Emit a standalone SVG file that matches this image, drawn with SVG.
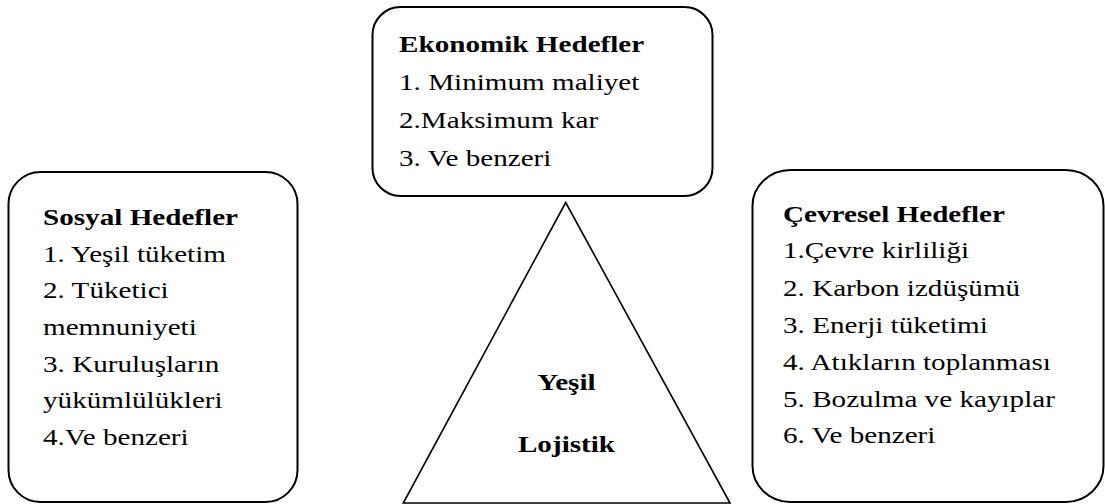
<svg xmlns="http://www.w3.org/2000/svg" width="1105" height="504" viewBox="0 0 1105 504">
<style>
.box{fill:#fff;stroke:#000;stroke-width:2}
.tri{fill:#fff;stroke:#000;stroke-width:1.6}
.t{font-family:'Liberation Serif','Times New Roman',serif;font-size:23.5px;fill:#000}
.b{font-weight:bold}
</style>
<rect width="1105" height="504" fill="#fff"/>
<g id="connectors"></g>
<g id="ekonomik">
<rect class="box" x="372.5" y="7" width="340" height="189" rx="28" ry="28"/>
<g class="t" transform="translate(399,0) scale(1.24,1)">
<text class="b" x="0" y="52.5">Ekonomik Hedefler</text>
<text x="0" y="90.5">1. Minimum maliyet</text>
<text x="0" y="128.5">2.Maksimum kar</text>
<text x="0" y="166.5">3. Ve benzeri</text>
</g>
</g>
<g id="sosyal">
<rect class="box" x="8.5" y="172" width="289" height="330" rx="32" ry="32"/>
<g class="t" transform="translate(43,0) scale(1.24,1)">
<text class="b" x="0" y="225">Sosyal Hedefler</text>
<text x="0" y="261.7">1. Yeşil tüketim</text>
<text x="0" y="298.4">2. Tüketici</text>
<text x="0" y="335.1">memnuniyeti</text>
<text x="0" y="371.8">3. Kuruluşların</text>
<text x="0" y="408.5">yükümlülükleri</text>
<text x="0" y="445.2">4.Ve benzeri</text>
</g>
</g>
<g id="cevresel">
<rect class="box" x="752.5" y="170" width="351" height="332" rx="38" ry="36"/>
<g class="t" transform="translate(783,0) scale(1.24,1)">
<text class="b" x="0" y="221.7">Çevresel Hedefler</text>
<text x="0" y="258.4">1.Çevre kirliliği</text>
<text x="0" y="295.6">2. Karbon izdüşümü</text>
<text x="0" y="332.6">3. Enerji tüketimi</text>
<text x="0" y="369.6">4. Atıkların toplanması</text>
<text x="0" y="406.6">5. Bozulma ve kayıplar</text>
<text x="0" y="443.4">6. Ve benzeri</text>
</g>
</g>
<g id="yesil-lojistik">
<polygon class="tri" points="565.7,202.5 403.3,503 730,503"/>
<g class="t" transform="translate(566.5,0) scale(1.24,1)">
<text class="b" x="0" y="390" text-anchor="middle">Yeşil</text>
<text class="b" x="0" y="451.7" text-anchor="middle">Lojistik</text>
</g>
</g>
</svg>
